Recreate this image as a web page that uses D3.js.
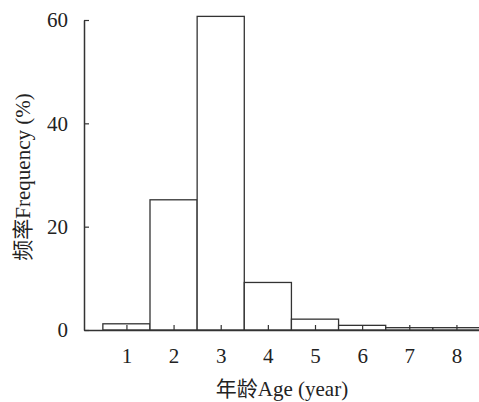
<!DOCTYPE html>
<html>
<head>
<meta charset="utf-8">
<script src="https://cdn.jsdelivr.net/npm/d3@7"></script>
<style>
  html, body { margin: 0; padding: 0; background: #fff; }
  svg text { font-family: "Liberation Serif", "Times New Roman", "Noto Sans CJK SC", serif; fill: #222; }
</style>
</head>
<body>
<div id="chart"></div>
<script>
// age classes and frequency (%)
const ages = [1, 2, 3, 4, 5, 6, 7, 8];
const freq = [1.2, 25.2, 60.7, 9.2, 2.1, 0.9, 0.45, 0.45];
const yTicks = [0, 20, 40, 60];

const W = 479, H = 402;
const font = '"Liberation Serif", "Times New Roman", "Noto Sans CJK SC", serif';
const svg = d3.select('#chart').append('svg').attr('width', W).attr('height', H);

const x = d3.scaleLinear().domain([0.1, 8.5]).range([84, 480]);
const y = d3.scaleLinear().domain([0, 60]).range([330, 20]);
const stroke = '#333';

// bars
svg.append('g').selectAll('rect').data(ages).join('rect')
  .attr('x', (d) => x(d - 0.5)).attr('y', (d, i) => y(freq[i]))
  .attr('width', x(1.5) - x(0.5)).attr('height', (d, i) => y(0) - y(freq[i]))
  .attr('fill', '#fff').attr('stroke', stroke).attr('stroke-width', 1.3);

// x axis, ticks inward
const xa = svg.append('g').attr('transform', `translate(0,${y(0)})`)
  .call(d3.axisBottom(x).tickValues(ages).tickSize(-5).tickPadding(18).tickSizeOuter(0))
  .attr('font-family', font).attr('font-size', 21);
xa.select('.domain').attr('stroke', stroke).attr('stroke-width', 1.5);
xa.selectAll('line').attr('stroke', stroke).attr('stroke-width', 1.2);
xa.selectAll('text').attr('fill', '#222');

// y axis, ticks inward
const ya = svg.append('g').attr('transform', `translate(${x(0.1)},0)`)
  .call(d3.axisLeft(y).tickValues(yTicks).tickSize(-5).tickPadding(16).tickSizeOuter(0))
  .attr('font-family', font).attr('font-size', 21);
ya.select('.domain').attr('stroke', stroke).attr('stroke-width', 1.5);
ya.selectAll('line').attr('stroke', stroke).attr('stroke-width', 1.2);
ya.selectAll('text').attr('fill', '#222');

// titles
svg.append('text').attr('x', 282).attr('y', 396).attr('text-anchor', 'middle')
  .attr('font-size', 21).text('年龄Age (year)');
svg.append('text').attr('transform', 'translate(30,177) rotate(-90)').attr('text-anchor', 'middle')
  .attr('font-size', 21).text('频率Frequency (%)');
</script>
</body>
</html>
